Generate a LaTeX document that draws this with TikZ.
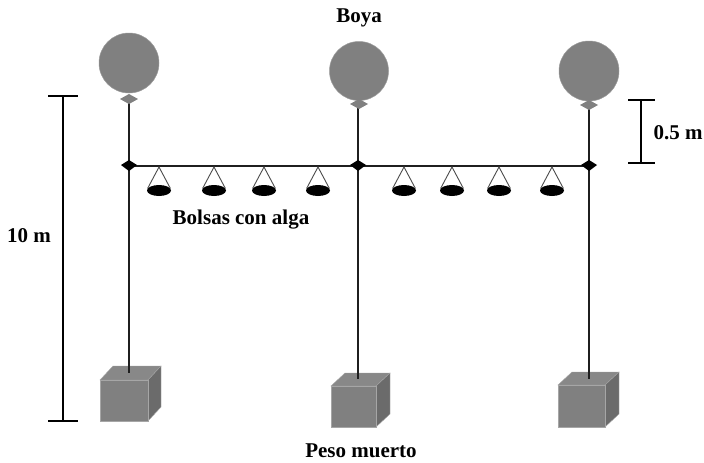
\documentclass[tikz,border=0pt]{standalone}
\usepackage{fontspec}
\usetikzlibrary{shapes.geometric}
\setmainfont{Liberation Serif}
\definecolor{ballgray}{gray}{0.5}
\definecolor{linegray}{gray}{0.12}
\definecolor{cubegray}{gray}{0.5}
\begin{document}
\begin{tikzpicture}[x=1pt,y=-1pt,
  ball/.style={circle,fill=ballgray,draw=ballgray!80,line width=.5pt,inner sep=0,minimum size=#1},
  smalld/.style={fill=ballgray},
  line/.style={draw=linegray,line width=2.6pt},
  lab/.style={font=\bfseries\fontsize{21}{23}\selectfont,text=black,inner sep=0},
  bar/.style={draw=black,line width=1.8pt},
  bagm/.style={ellipse,fill=black,minimum width=24pt,minimum height=11pt,inner sep=0},
  hang/.style={draw=linegray!80!white,line width=.9pt},
  front/.style={fill=cubegray,draw=cubegray!70!white,line width=.4pt}]
\path[use as bounding box,fill=white] (0,0) rectangle (704,463);
% poles and beam
\coordinate (t1) at (129,99); \coordinate (j1) at (129,166); \coordinate (b1) at (129,373);
\coordinate (t2) at (358,104); \coordinate (j2) at (358,166); \coordinate (b2) at (358,379);
\coordinate (t3) at (589,105); \coordinate (j3) at (589,166); \coordinate (b3) at (589,379);
% cubes
\foreach \x/\y/\w/\h/\dx/\dy in {100/380/48/41/13/14, 331/386/45/41/14/13, 558/385/47/42/14/13}{
  \fill[cubegray!93!white,draw=gray!70,line width=.4pt] (\x,\y) -- ++(\dx,-\dy) -- ++(\w,0) -- ++(-\dx,\dy) -- cycle;
  \fill[black!58,draw=gray!70,line width=.4pt] (\x+\w,\y) -- ++(\dx,-\dy) -- ++(0,\h) -- ++(-\dx,\dy) -- cycle;
  \path[front] (\x,\y) rectangle ++(\w,\h);
}
\draw[line] (t1) -- (j1) -- (b1);
\draw[line] (t2) -- (j2) -- (b2);
\draw[line] (t3) -- (j3) -- (b3);
\draw[line] (j1) -- (j2) -- (j3);
% balloons
\node[ball=60pt] (ball1) at (129,63) {};
\node[ball=59pt] (ball2) at (359,71) {};
\node[ball=60pt] (ball3) at (589,71) {};
\foreach \c/\y in {129/99,359/104,589/105}{
  \fill[smalld] (\c-9,\y) -- (\c,\y-5) -- (\c+9,\y) -- (\c,\y+5) -- cycle;
}
\foreach \c in {129,358,589}{
  \fill[black] (\c-8,165) -- (\c,160) -- (\c+8,165) -- (\c,171) -- cycle;
}
% bags
\foreach \n/\x in {1/159,2/214,3/264,4/318,5/404,6/452,7/499,8/552}{
  \coordinate (a\n) at (\x,167);
  \node[bagm] (bag\n) at (\x,190.5) {};
  \draw[hang] (bag\n.170) -- (a\n) -- (bag\n.10);
}
% scale bars
\coordinate (la) at (63,96); \coordinate (lb) at (63,421);
\coordinate (ra) at (641,100); \coordinate (rb) at (641,163);
\draw[bar] (la) -- (lb);
\draw[bar] (48,96) -- (78,96);
\draw[bar] (48,421) -- (78,421);
\draw[bar] (ra) -- (rb);
\draw[bar] (628,100) -- (655,100);
\draw[bar] (628,163) -- (655,163);
% labels
\node[lab] (boya) at (359,18) {Boya};
\node[lab] (bolsas) at (241,220) {Bolsas con alga};
\node[lab] (peso) at (361,451) {Peso muerto};
\node[lab] (diez) at (29,236) {10 m};
\node[lab] (medio) at (678,133) {0.5 m};
\end{tikzpicture}
\end{document}
